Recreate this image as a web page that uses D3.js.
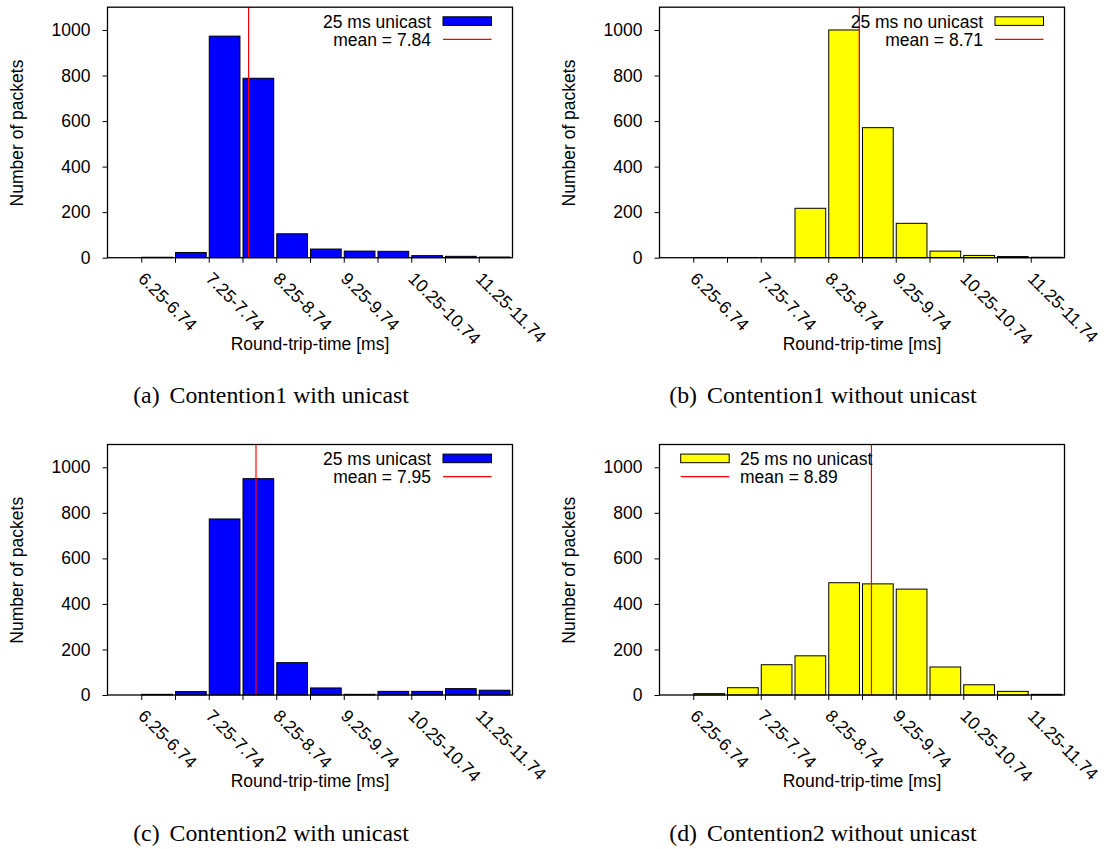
<!DOCTYPE html>
<html>
<head>
<meta charset="utf-8">
<script src="https://cdn.jsdelivr.net/npm/d3@7"></script>
<style>
  body { margin: 0; background: #fff; }
  svg { display: block; }
</style>
</head>
<body>
<script>
// Bins are 0.5 ms wide, starting at 5.75 ms
const binStarts = [5.75, 6.25, 6.75, 7.25, 7.75, 8.25, 8.75, 9.25, 9.75, 10.25, 10.75, 11.25];
const tickLabels = ["6.25-6.74", "7.25-7.74", "8.25-8.74", "9.25-9.74", "10.25-10.74", "11.25-11.74"];
const labelPositions = [6.25, 7.25, 8.25, 9.25, 10.25, 11.25];
const yTicks = [0, 200, 400, 600, 800, 1000];

const countsA = [0, 2, 23, 973, 788, 105, 38, 29, 28, 9, 6, 3];
const countsB = [0, 1, 1, 1, 217, 1000, 571, 151, 29, 10, 5, 2];
const countsC = [0, 3, 15, 773, 950, 142, 31, 3, 16, 16, 28, 21];
const countsD = [0, 6, 32, 133, 172, 493, 488, 465, 123, 45, 16, 3];

const means = [7.84, 8.71, 7.95, 8.89];
const seriesNames = ["25 ms unicast", "25 ms no unicast", "25 ms unicast", "25 ms no unicast"];
const captionTags = ["(a)", "(b)", "(c)", "(d)"];
const captions = ["Contention1 with unicast", "Contention1 without unicast",
                  "Contention2 with unicast", "Contention2 without unicast"];

const width = 1113;
const height = 849;
const sans = "'Liberation Sans', Arial, Helvetica, sans-serif";
const serif = "'Liberation Serif', 'Times New Roman', Times, serif";

const svg = d3.select("body").append("svg")
  .attr("width", width)
  .attr("height", height)
  .attr("viewBox", [0, 0, width, height]);

svg.append("rect").attr("width", width).attr("height", height).attr("fill", "#fff");

// Plot frame inside each panel
const plot = { left: 107.5, right: 512.5, top: 7.2, bottom: 257.7 };

const xScale = d3.scaleLinear().domain([5.75, 11.75]).range([plot.left, plot.right]);
const yScale = d3.scaleLinear().domain([0, 1100]).range([plot.bottom, plot.top]);
const binW = xScale(6.25) - xScale(5.75);

const panels = [
  { counts: countsA, color: "#0000ff", dx: 0, dy: 0, legend: "right" },
  { counts: countsB, color: "#ffff00", dx: 552, dy: 0, legend: "right" },
  { counts: countsC, color: "#0000ff", dx: 0, dy: 437.3, legend: "right" },
  { counts: countsD, color: "#ffff00", dx: 552, dy: 437.3, legend: "left" },
];

const edges = binStarts.slice(1);

panels.forEach((p, i) => {
  const g = svg.append("g").attr("transform", `translate(${p.dx},${p.dy})`);

  // bars
  g.append("g")
    .selectAll("rect")
    .data(p.counts)
    .join("rect")
    .attr("x", (d, j) => xScale(binStarts[j]) + 0.5)
    .attr("y", d => yScale(d))
    .attr("width", binW * 0.91)
    .attr("height", d => yScale(0) - yScale(d))
    .attr("fill", p.color)
    .attr("stroke", "#000")
    .attr("stroke-width", 1);

  // mean line
  g.append("line")
    .attr("x1", xScale(means[i]))
    .attr("x2", xScale(means[i]))
    .attr("y1", yScale(0))
    .attr("y2", yScale(1100))
    .attr("stroke", "#ff0000")
    .attr("stroke-width", 1.2);

  // x axis, a tick at every bin edge, labels on every other one
  const xAxis = d3.axisBottom(xScale)
    .tickValues(edges)
    .tickSize(5)
    .tickFormat(v => {
      const k = labelPositions.indexOf(v);
      return k >= 0 ? tickLabels[k] : "";
    });
  const xg = g.append("g")
    .attr("transform", `translate(0,${plot.bottom})`)
    .call(xAxis);
  xg.select(".domain").remove();
  xg.selectAll(".tick line").attr("stroke", "#000");
  xg.selectAll(".tick text")
    .attr("x", -4.5)
    .attr("y", 22)
    .attr("dy", null)
    .attr("text-anchor", "start")
    .attr("transform", "rotate(45 -4.5 22)")
    .attr("fill", "#000")
    .style("font", `17.5px ${sans}`);

  // y axis
  const yAxis = d3.axisLeft(yScale)
    .tickValues(yTicks)
    .tickSize(5)
    .tickPadding(12)
    .tickFormat(d3.format("d"));
  const yg = g.append("g")
    .attr("transform", `translate(${plot.left},0)`)
    .call(yAxis);
  yg.select(".domain").remove();
  yg.selectAll(".tick line").attr("stroke", "#000");
  yg.selectAll(".tick text").attr("fill", "#000").style("font", `17.5px ${sans}`);

  // frame
  g.append("rect")
    .attr("x", plot.left)
    .attr("y", plot.top)
    .attr("width", plot.right - plot.left)
    .attr("height", plot.bottom - plot.top)
    .attr("fill", "none")
    .attr("stroke", "#000")
    .attr("stroke-width", 1.3);

  // axis titles
  g.append("text")
    .attr("transform", "translate(17,133) rotate(-90)")
    .attr("text-anchor", "middle")
    .attr("dominant-baseline", "central")
    .style("font", `17.5px ${sans}`)
    .text("Number of packets");

  g.append("text")
    .attr("x", (plot.left + plot.right) / 2)
    .attr("y", 350)
    .attr("text-anchor", "middle")
    .style("font", `17.5px ${sans}`)
    .text("Round-trip-time [ms]");

  // legend
  const lg = g.append("g").style("font", `17.5px ${sans}`);
  let textX, anchor, keyX;
  if (p.legend === "right") {
    textX = 431; anchor = "end"; keyX = 443;
  } else {
    textX = 188; anchor = "start"; keyX = 128.7;
  }
  lg.append("text").attr("x", textX).attr("y", 27.5).attr("text-anchor", anchor).text(seriesNames[i]);
  lg.append("text").attr("x", textX).attr("y", 45.5).attr("text-anchor", anchor).text("mean = " + means[i].toFixed(2));
  lg.append("rect")
    .attr("x", keyX).attr("y", 16.8)
    .attr("width", 48.5).attr("height", 8.6)
    .attr("fill", p.color).attr("stroke", "#000").attr("stroke-width", 1);
  lg.append("line")
    .attr("x1", keyX).attr("x2", keyX + 48.5)
    .attr("y1", 39.3).attr("y2", 39.3)
    .attr("stroke", "#ff0000").attr("stroke-width", 1.2);

  // caption under the panel
  const cap = g.append("text")
    .attr("x", 271)
    .attr("y", 403.3)
    .attr("text-anchor", "middle")
    .style("font", `23.8px ${serif}`);
  cap.append("tspan").text(captionTags[i]);
  cap.append("tspan").attr("dx", 10).text(captions[i]);
});
</script>
</body>
</html>
